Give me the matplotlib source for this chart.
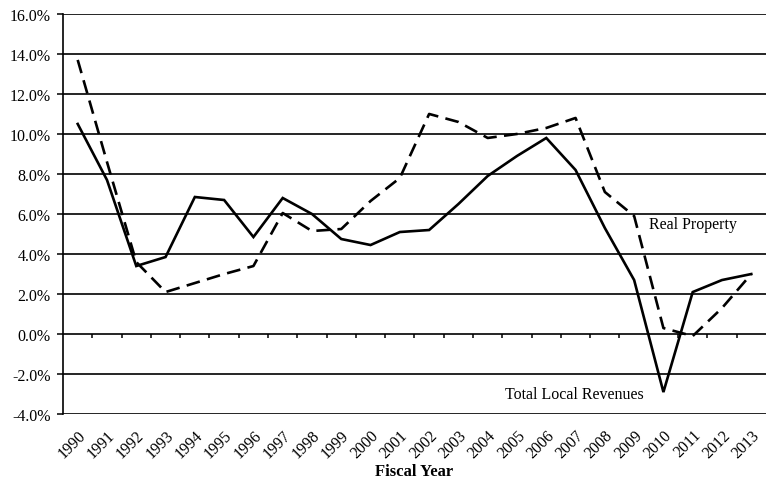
import matplotlib
matplotlib.use("Agg")
import matplotlib.pyplot as plt
import numpy as np

years = [str(y) for y in range(1990, 2014)]
total_local_revenues = [10.5, 7.7, 3.4, 3.85, 6.85, 6.7, 4.85, 6.8, 6.0, 4.75, 4.45, 5.1,
                        5.2, 6.5, 7.9, 8.9, 9.8, 8.2, 5.3, 2.7, -2.9, 2.1, 2.7, 3.0]
real_property = [13.7, 8.6, 3.6, 2.1, 2.55, 3.0, 3.4, 6.05, 5.15, 5.25, 6.65, 7.8,
                 11.0, 10.6, 9.8, 10.0, 10.3, 10.8, 7.1, 5.9, 0.3, -0.1, 1.3, 3.0]
y_ticks = [-4, -2, 0, 2, 4, 6, 8, 10, 12, 14, 16]

plt.rcParams['font.family'] = ['Liberation Serif', 'DejaVu Serif']

fig = plt.figure(figsize=(7.69, 4.81), dpi=100)
ax = fig.add_axes([0.082, 0.137, 0.914, 0.832])

x = np.arange(len(years))
ax.plot(x, total_local_revenues, color='black', lw=1.9, solid_joinstyle='miter')
ax.plot(x, real_property, color='black', lw=1.9, linestyle=(0, (5.2, 2.8)))

ax.set_xlim(-0.5, len(years) - 0.5)
ax.set_ylim(-4, 16)
ax.set_yticks(y_ticks)
ax.set_yticklabels([f"{v:.1f}%" for v in y_ticks], fontsize=11.5)
for v in y_ticks:
    ax.axhline(v, color='black', lw=1.2, zorder=0)

# category boundary ticks on the zero line
ax.vlines(x[:-1] + 0.5, -0.22, 0, color='black', lw=1.1)

ax.set_xticks(x)
ax.set_xticklabels(years, rotation=45, ha='right', rotation_mode='anchor', fontsize=11.5)
ax.tick_params(axis='x', length=0, pad=9)
ax.tick_params(axis='y', length=4, width=1.1, direction='out', pad=5)

for s in ['top', 'right', 'bottom']:
    ax.spines[s].set_visible(False)
ax.spines['left'].set_linewidth(1.2)

ax.set_xlabel('Fiscal Year', fontsize=12, fontweight='bold', labelpad=2)

ax.text(19.5, 5.5, 'Real Property', fontsize=11.5, va='center', ha='left')
ax.text(14.6, -3.0, 'Total Local Revenues', fontsize=11.5, va='center', ha='left')

fig.savefig('out.png', dpi=100)
